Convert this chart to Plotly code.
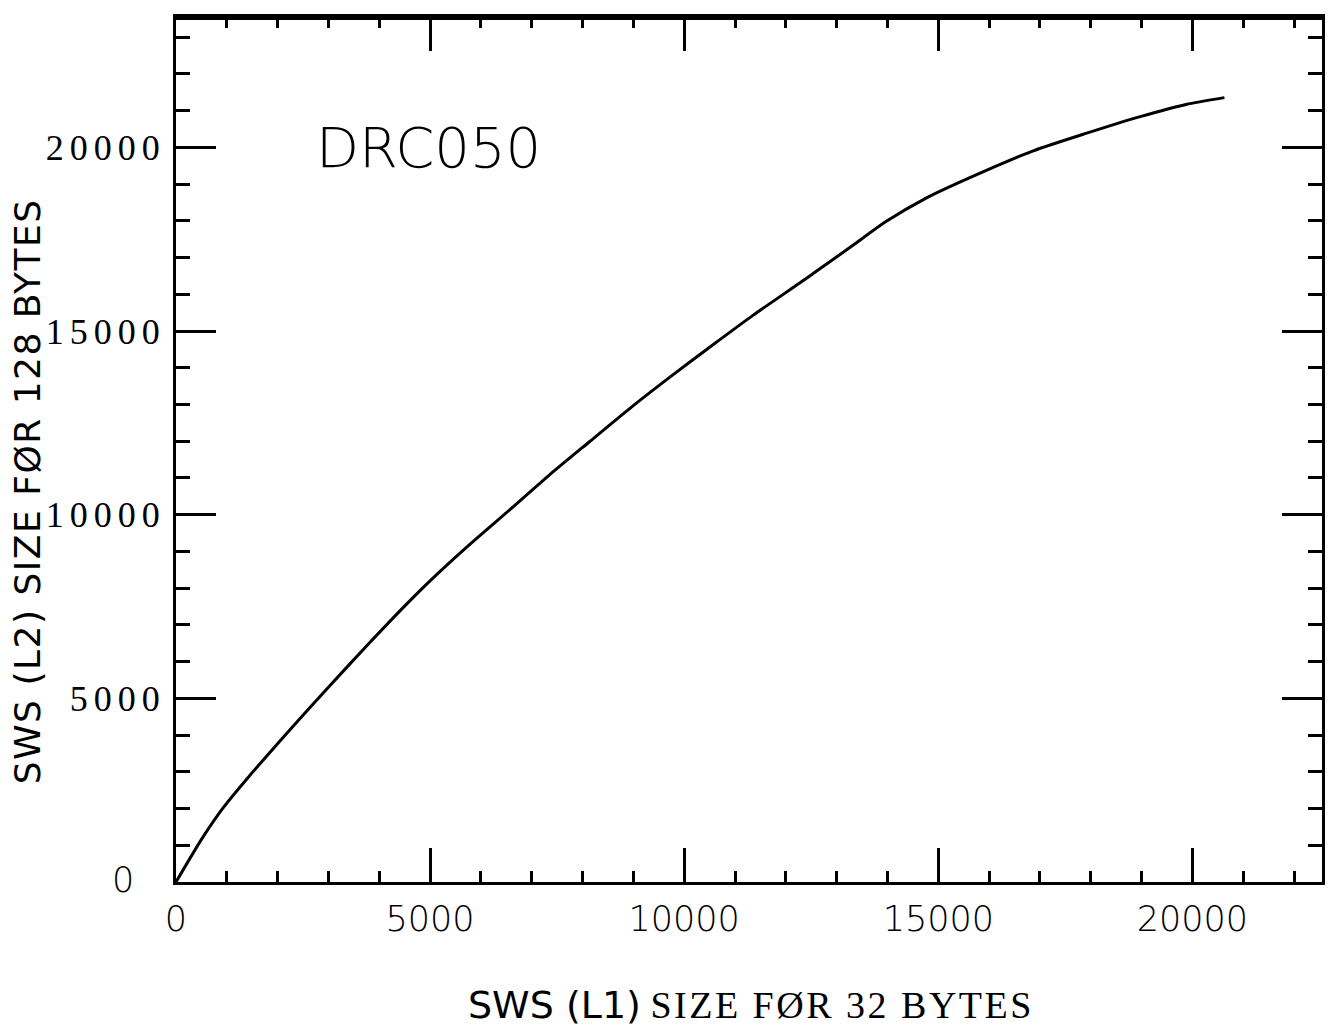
import plotly.graph_objects as go

# Data
l1_size = [0, 520, 945, 1440, 1830, 2225, 2950, 3800, 4455, 5045, 5770, 6555, 7345, 8130,
           8980, 9770, 10560, 11345, 12265, 12655, 13315, 13970, 14760, 15610, 16855,
           17905, 18955, 19875, 20630]
l2_size = [0, 1200, 2050, 2880, 3500, 4120, 5230, 6500, 7450, 8260, 9180, 10120, 11080, 11980,
           12950, 13800, 14620, 15420, 16300, 16680, 17330, 17980, 18620, 19170, 19900,
           20380, 20830, 21170, 21355]

x_tickvals = [0, 5000, 10000, 15000, 20000]
x_ticktext = ["0", "5000", "10000", "15000", "20000"]
y_tickvals = [0, 5000, 10000, 15000, 20000]
y_ticktext = ["0", "5000", "10000", "15000", "20000"]

SANS = "DejaVu Sans"
SERIF = "Liberation Serif"

# page is offset by the 8px body margin; plot area in page pixels:
plot_l, plot_r, plot_t, plot_b = 176, 1322, 14, 882
OFF = 8
W, H = 1335 - OFF, 1030 - OFF

fig = go.Figure()
fig.add_trace(go.Scatter(x=l1_size, y=l2_size, mode="lines",
                         line=dict(color="black", width=3, shape="spline", smoothing=0.6),
                         showlegend=False, hoverinfo="skip"))

# first y tick label (0) is drawn separately in a sans face, as in the reference
y_text_styled = [""] + [f'<span style="letter-spacing:6px">{t}</span>' for t in y_ticktext[1:]]

fig.update_layout(
    width=W, height=H,
    margin=dict(l=plot_l - OFF, r=W - (plot_r - OFF), t=plot_t - OFF, b=H - (plot_b - OFF)),
    paper_bgcolor="white", plot_bgcolor="white",
    xaxis=dict(range=[0, 22550], tickvals=x_tickvals, ticktext=x_ticktext,
               ticks="inside", ticklen=34, tickwidth=3, tickcolor="black",
               minor=dict(ticks="inside", dtick=1000, tick0=0, ticklen=11, tickwidth=3, tickcolor="black"),
               showline=True, linewidth=3, linecolor="black", mirror="ticks",
               showgrid=False, zeroline=False,
               tickfont=dict(family=SANS, size=35, color="black", weight=300),
               ticklabelstandoff=4),
    yaxis=dict(range=[0, 23550], tickvals=y_tickvals, ticktext=y_text_styled,
               ticks="inside", ticklen=40, tickwidth=3, tickcolor="black",
               minor=dict(ticks="inside", dtick=1000, tick0=0, ticklen=14, tickwidth=3, tickcolor="black"),
               showline=True, linewidth=3, linecolor="black", mirror="ticks",
               showgrid=False, zeroline=False,
               tickfont=dict(family=SERIF, size=36, color="black"),
               ticklabelstandoff=0),
    shapes=[dict(type="line", xref="paper", yref="paper", x0=0, x1=1, y0=1, y1=1,
                 line=dict(color="black", width=6))],
)

annotations = [
    dict(x=2720, y=20000, xref="x", yref="y", text="DRC050", showarrow=False,
         xanchor="left", yanchor="middle",
         font=dict(family=SANS, size=56, color="black", weight=300)),
    dict(x=123, y=880, xref="paper", yref="paper", text=y_ticktext[0], showarrow=False,
         xanchor="center", yanchor="middle",
         font=dict(family=SANS, size=35, color="black", weight=300)),
    dict(x=751, y=1005, xref="paper", yref="paper", showarrow=False,
         xanchor="center", yanchor="middle",
         text=(f'<span style="font-family:{SANS}">SWS (L1)</span> '
               f'<span style="letter-spacing:2.5px">SIZE FØR 32 BYTES</span>'),
         font=dict(family=SERIF, size=38, color="black")),
    dict(x=27, y=490, xref="paper", yref="paper", showarrow=False, textangle=-90,
         xanchor="center", yanchor="middle",
         text='<span style="letter-spacing:1.5px">SWS (L2) SIZE FØR 128 BYTES</span>',
         font=dict(family=SANS, size=36, color="black")),
]
for a in annotations:
    if a["xref"] == "paper":
        a["x"] = (a["x"] - plot_l) / (plot_r - plot_l)
        a["y"] = (plot_b - a["y"]) / (plot_b - plot_t)
fig.update_layout(annotations=annotations)

fig.write_html("out.html")
